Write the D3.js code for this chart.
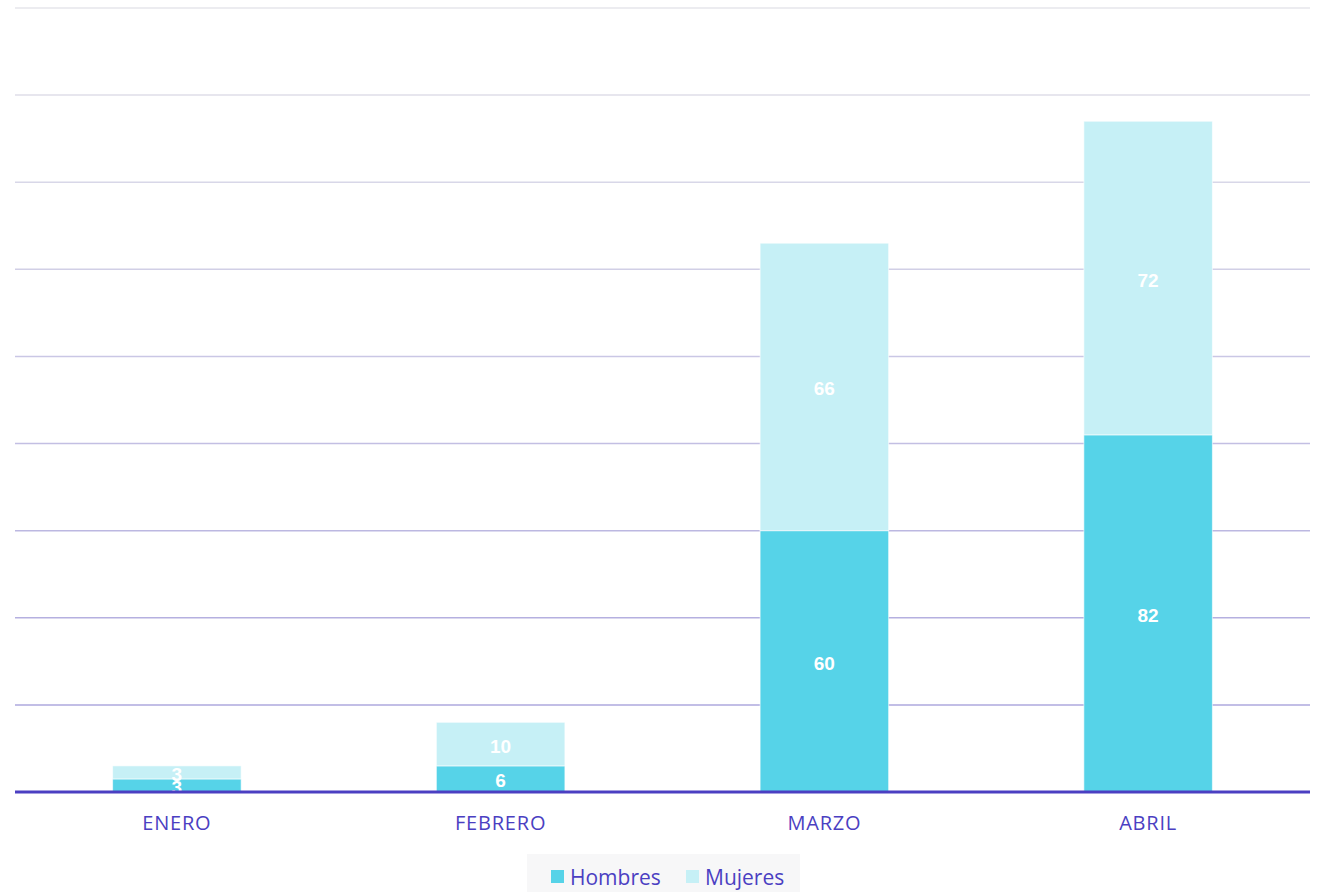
<!DOCTYPE html>
<html>
	<head>
		<meta charset="utf-8">
		<title>Hombres / Mujeres por mes</title>
		<script src="https://d3js.org/d3.v7.min.js"></script>
		<style>
			body { margin: 0; background: #fff; }
			text { font-family: "Open Sans", Lato, sans-serif; }
		</style>
	</head>
	<body>
		<script>
			var meses = ["ENERO", "FEBRERO", "MARZO", "ABRIL"];
			var hombres = [3, 6, 60, 82];
			var mujeres = [3, 10, 66, 72];
			var series = ["Hombres", "Mujeres"];
			var colores = ["#56d3e8", "#c6f0f6"];
			var yTicks = [0, 20, 40, 60, 80, 100, 120, 140, 160, 180];

			var w = 1322;
			var h = 892;
			var plotLeft = 15, plotRight = 1310, plotTop = 8, plotBottom = 792;

			var svg = d3.select("body")
						.append("svg")
						.attr("width", w)
						.attr("height", h);

			var xScale = d3.scaleBand()
				.domain(meses)
				.range([plotLeft, plotRight])
				.paddingInner(0.603)
				.paddingOuter(0.3015);

			var yScale = d3.scaleLinear()
				.domain([0, 180])
				.range([plotBottom, plotTop]);

			// gridlines, grey at the top fading to purple near the base
			var gridColor = d3.scaleLinear()
				.domain([180, 20])
				.range(["#e6e6eb", "#aea8de"]);

			svg.append("g")
				.selectAll("line")
				.data(yTicks.filter(function(d) { return d > 0; }))
				.enter()
				.append("line")
				.attr("x1", plotLeft)
				.attr("x2", plotRight)
				.attr("y1", function(d) { return yScale(d); })
				.attr("y2", function(d) { return yScale(d); })
				.attr("stroke", function(d) { return gridColor(d); })
				.attr("stroke-width", 1.5);

			var rows = meses.map(function(m, i) {
				return { mes: m, Hombres: hombres[i], Mujeres: mujeres[i] };
			});
			var stacked = d3.stack().keys(series)(rows);

			var layers = svg.selectAll("g.layer")
				.data(stacked)
				.enter()
				.append("g")
				.attr("class", "layer")
				.attr("fill", function(d, i) { return colores[i]; });

			layers.selectAll("rect")
				.data(function(d) { return d; })
				.enter()
				.append("rect")
				.attr("x", function(d) { return xScale(d.data.mes); })
				.attr("width", xScale.bandwidth())
				.attr("y", function(d) { return yScale(d[1]); })
				.attr("height", function(d) { return yScale(d[0]) - yScale(d[1]); })
				.attr("stroke", "#ffffff")
				.attr("stroke-opacity", 0.6)
				.attr("stroke-width", 1);

			// base line
			svg.append("line")
				.attr("x1", plotLeft)
				.attr("x2", plotRight)
				.attr("y1", yScale(0))
				.attr("y2", yScale(0))
				.attr("stroke", "#4b3fc2")
				.attr("stroke-width", 3);

			// value labels
			layers.selectAll("text")
				.data(function(d) { return d; })
				.enter()
				.append("text")
				.attr("x", function(d) { return xScale(d.data.mes) + xScale.bandwidth() / 2; })
				.attr("y", function(d) { return (yScale(d[0]) + yScale(d[1])) / 2; })
				.attr("dy", "0.45em")
				.attr("text-anchor", "middle")
				.attr("fill", "#ffffff")
				.style("font-family", "'Liberation Sans', Arial, sans-serif")
				.style("font-weight", "bold")
				.style("font-size", "19px")
				.text(function(d) { return d[1] - d[0]; });

			// x axis labels
			var xAxis = d3.axisBottom(xScale).tickSize(0).tickPadding(24);
			var xg = svg.append("g")
				.attr("transform", "translate(0," + plotBottom + ")")
				.call(xAxis);
			xg.select(".domain").remove();
			xg.selectAll("text")
				.attr("fill", "#4b3fc2")
				.style("font-size", "20px")
				.style("letter-spacing", "0.8px")
				.style("font-family", "'Open Sans', sans-serif");

			// legend
			var legend = svg.append("g");
			legend.append("rect")
				.attr("x", 527)
				.attr("y", 854)
				.attr("width", 273)
				.attr("height", 38)
				.attr("fill", "#f7f7f8");

			var lx = [551, 686];
			series.forEach(function(s, i) {
				legend.append("rect")
					.attr("x", lx[i])
					.attr("y", 870)
					.attr("width", 13)
					.attr("height", 13)
					.attr("fill", colores[i]);
				legend.append("text")
					.attr("x", lx[i] + 19)
					.attr("y", 885)
					.attr("fill", "#4b3fc2")
					.style("font-size", "21px")
					.text(s);
			});
		</script>
	</body>
</html>
